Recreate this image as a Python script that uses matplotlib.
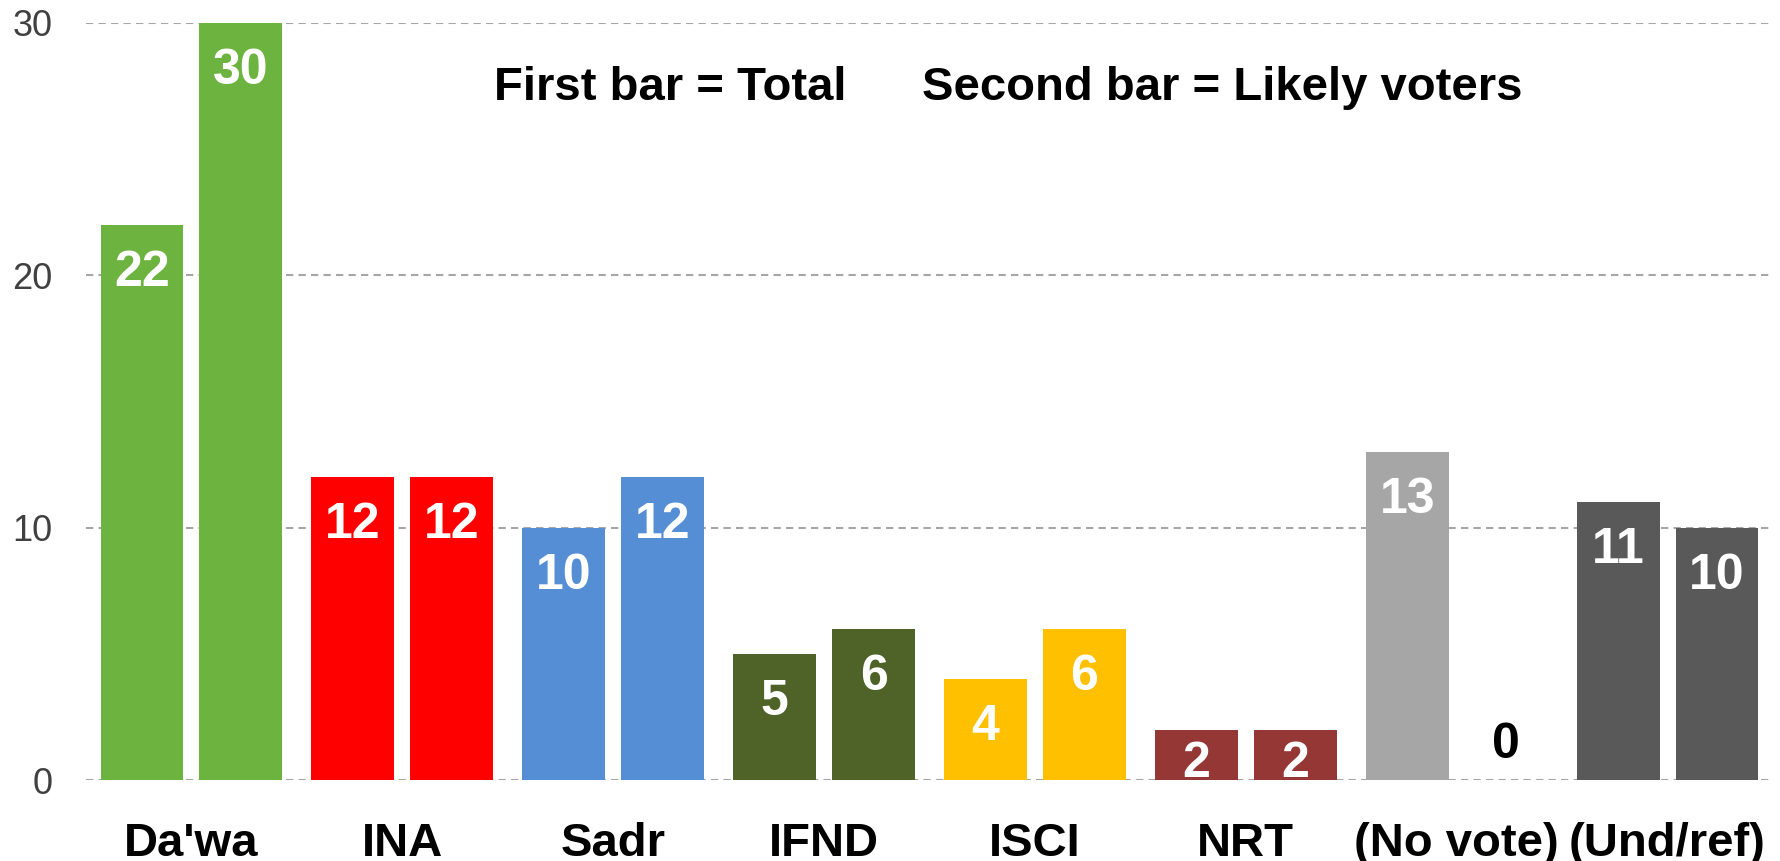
import matplotlib.pyplot as plt
import numpy as np

# Datos
parties = ["Da'wa", "INA", "Sadr", "IFND", "ISCI", "NRT", "(No vote)", "(Und/ref)"]
total = [22, 12, 10, 5, 4, 2, 13, 11]
likely = [30, 12, 12, 6, 6, 2, 0, 10]
colors = ["#6DB33F", "#FF0000", "#558ED5", "#4F6228", "#FFC000", "#953735", "#A6A6A6", "#595959"]
yticks = [0, 10, 20, 30]

plt.rcParams['font.family'] = ['Liberation Sans', 'DejaVu Sans']

fig = plt.figure(figsize=(17.81, 8.61), dpi=100)
ax = fig.add_axes([86 / 1781, 81 / 861, 1687 / 1781, 757.3 / 861])

x = np.arange(len(parties))
w = 0.393
off = 0.2345

ax.bar(x - off, total, width=w, color=colors, zorder=2)
ax.bar(x + off, likely, width=w, color=colors, zorder=2)

# Etiquetas de valor
for xs, vals in [(x - off, total), (x + off, likely)]:
    for xi, v in zip(xs, vals):
        if v == 0:
            ax.annotate(str(v), (xi, v), xytext=(0, 16), textcoords='offset points',
                        ha='center', va='baseline', fontsize=36, fontweight='bold', color='black')
        else:
            dy = -44 if v > 3 else -34
            ax.annotate(str(v), (xi, v), xytext=(0, dy), textcoords='offset points',
                        ha='center', va='baseline', fontsize=36, fontweight='bold', color='white')

ax.set_xlim(-0.5, len(parties) - 0.5)
ax.set_ylim(0, 30)
ax.set_yticks(yticks)
ax.set_xticks(x)
ax.set_xticklabels(parties, fontsize=34, fontweight='bold', color='black')
ax.tick_params(axis='y', length=0, pad=24, labelsize=26, labelcolor='#404040')
ax.tick_params(axis='x', length=0, pad=30)

ax.grid(axis='y', color='#A6A6A6', linestyle=(0, (3.5, 2.5)), linewidth=1.5, zorder=0)
ax.set_axisbelow(True)
for s in ax.spines.values():
    s.set_visible(False)

fig.text(494 / 1781, 1 - 100 / 861, "First bar = Total", fontsize=34, fontweight='bold',
         ha='left', va='baseline')
fig.text(922 / 1781, 1 - 100 / 861, "Second bar = Likely voters", fontsize=34, fontweight='bold',
         ha='left', va='baseline')

plt.savefig('out.png', dpi=100)
